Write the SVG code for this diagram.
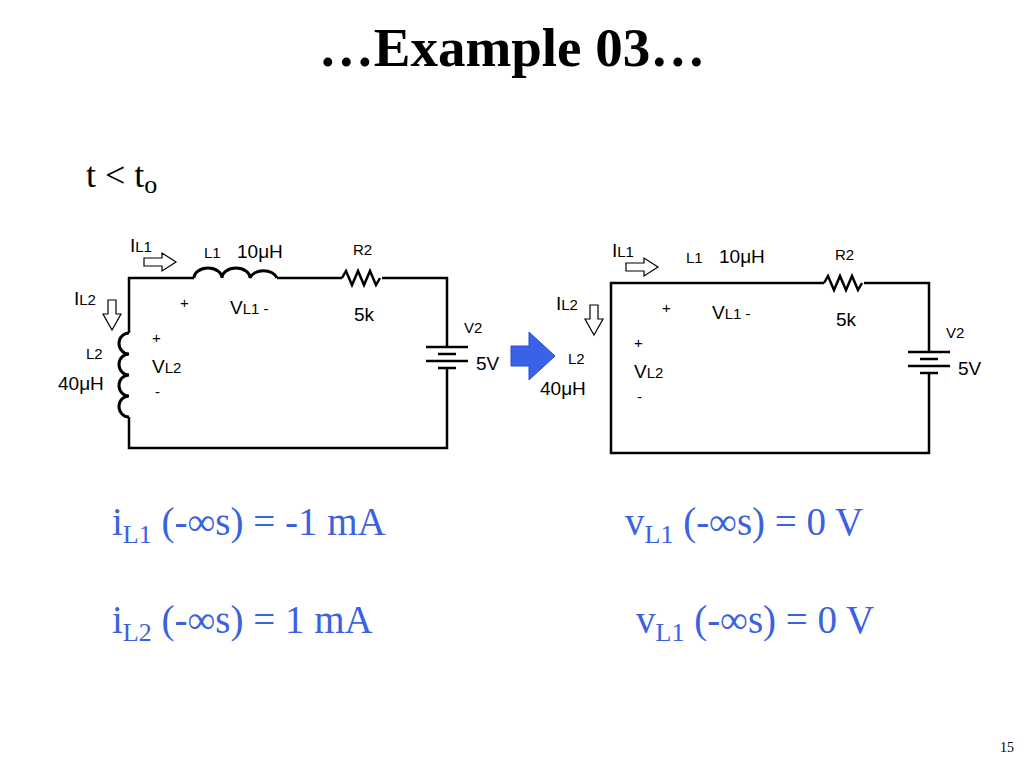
<svg xmlns="http://www.w3.org/2000/svg" width="1024" height="768" viewBox="0 0 1024 768">
<style>
.w{fill:none;stroke:#000;stroke-width:2.5}
.c{fill:none;stroke:#000;stroke-width:3}
.s{font-family:"Liberation Sans",Arial,sans-serif;font-size:19px;fill:#000}
.ss{font-family:"Liberation Sans",Arial,sans-serif;font-size:15px;fill:#000}
.h{fill:#fff;stroke:#000;stroke-width:1.2}
.b{font-family:"Liberation Serif","Times New Roman",serif;font-size:39px;fill:#3a62e0}
.sub{font-size:26px}
</style>
<g id="ckt">
<path class="h" d="M144,258 h18 v-5 l14,9 l-14,9 v-5 h-18 z"/>
<text class="s" x="130" y="252">I<tspan class="ss">L1</tspan></text>
<path class="h" d="M108,300 h8 v14 h5 l-9,16 l-9,-16 h5 z"/>
<text class="s" x="74" y="305">I<tspan class="ss">L2</tspan></text>
<text class="ss" x="204" y="258">L1</text>
<text class="s" x="237" y="258">10μH</text>
<text class="ss" x="353" y="255">R2</text>
<text class="ss" x="180" y="308">+</text>
<text class="s" x="230" y="314">V<tspan class="ss">L1 -</tspan></text>
<text class="s" x="354" y="321">5k</text>
<text class="ss" x="464" y="333">V2</text>
<text class="s" x="476" y="370">5V</text>
<text class="ss" x="86" y="359">L2</text>
<text class="s" x="58" y="390">40μH</text>
<text class="ss" x="152" y="343">+</text>
<text class="s" x="152" y="373">V<tspan class="ss">L2</tspan></text>
<text class="ss" x="155" y="397">-</text>
<path class="w" d="M447,347 V278 H382 M342,278 H277 M194,278 H129 V333 M129,417 V448 H447 V368"/>
<path class="w" d="M342,278 l4,-7 l6,14 l6,-14 l6,14 l6,-14 l6,14 l4,-7"/>
<path class="w" d="M426,347 h42 M438,354 h18 M426,361 h42 M438,368 h18"/>
<path class="c" d="M194,278 a14,10 0 0 1 28,0 a14,10 0 0 1 28,0 a14,10 0 0 1 27,0"/>
<path class="c" d="M129,333 a10,10.5 0 0 0 0,21 a10,10.5 0 0 0 0,21 a10,10.5 0 0 0 0,21 a10,10.5 0 0 0 0,21"/>
</g>
<g id="ckt2" transform="translate(482,5)">
<path class="h" d="M144,258 h18 v-5 l14,9 l-14,9 v-5 h-18 z"/>
<text class="s" x="130" y="252">I<tspan class="ss">L1</tspan></text>
<path class="h" d="M108,300 h8 v14 h5 l-9,16 l-9,-16 h5 z"/>
<text class="s" x="74" y="305">I<tspan class="ss">L2</tspan></text>
<text class="ss" x="204" y="258">L1</text>
<text class="s" x="237" y="258">10μH</text>
<text class="ss" x="353" y="255">R2</text>
<text class="ss" x="180" y="308">+</text>
<text class="s" x="230" y="314">V<tspan class="ss">L1 -</tspan></text>
<text class="s" x="354" y="321">5k</text>
<text class="ss" x="464" y="333">V2</text>
<text class="s" x="476" y="370">5V</text>
<text class="ss" x="86" y="359">L2</text>
<text class="s" x="58" y="390">40μH</text>
<text class="ss" x="152" y="343">+</text>
<text class="s" x="152" y="373">V<tspan class="ss">L2</tspan></text>
<text class="ss" x="155" y="397">-</text>
<path class="w" d="M447,347 V278 H382 M342,278 H129 V448 H447 V368"/>
<path class="w" d="M342,278 l4,-7 l6,14 l6,-14 l6,14 l6,-14 l6,14 l4,-7"/>
<path class="w" d="M426,347 h42 M438,354 h18 M426,361 h42 M438,368 h18"/>
</g>
<g id="arrow">
<path d="M511,346 h18 v-14 l26,24 l-26,24 v-14 h-18 z" fill="#3a62e8" stroke="#2a4cc0" stroke-width="1"/>
</g>
<g id="texts">
<text x="512" y="66" text-anchor="middle" font-family="Liberation Serif,serif" font-weight="bold" font-size="55">…Example 03…</text>
<text x="86" y="187" font-family="Liberation Serif,serif" font-size="36">t &lt; t<tspan font-size="26" dy="6">o</tspan></text>
<text class="b" x="112" y="535">i<tspan class="sub" dy="8">L1</tspan><tspan dy="-8"> (-∞s) = -1 mA</tspan></text>
<text class="b" x="625" y="535">v<tspan class="sub" dy="8">L1</tspan><tspan dy="-8"> (-∞s) = 0 V</tspan></text>
<text class="b" x="112" y="633">i<tspan class="sub" dy="8">L2</tspan><tspan dy="-8"> (-∞s) = 1 mA</tspan></text>
<text class="b" x="636" y="633">v<tspan class="sub" dy="8">L1</tspan><tspan dy="-8"> (-∞s) = 0 V</tspan></text>
<text x="1014" y="752" text-anchor="end" font-family="Liberation Serif,serif" font-size="14">15</text>
</g>
</svg>
